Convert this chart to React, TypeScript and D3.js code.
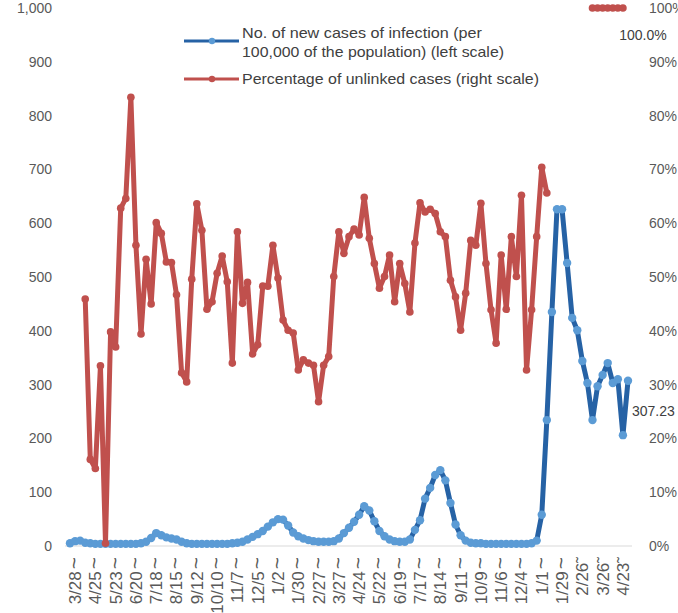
import React from "react";
import * as d3 from "d3";

const tickDates = ["3/28","4/25","5/23","6/20","7/18","8/15","9/12","10/10","11/7","12/5","1/2","1/30","2/27","3/27","4/24","5/22","6/19","7/17","8/14","9/11","10/9","11/6","12/4","1/1","1/29","2/26","3/26","4/23"];
const tickSuffixes = ["~","~","~","~","~","~","~","~","~","~","~","~","~","~","~","~","~","~","~","~","~","~","~","~","~","˜","˜","˜"];

const newCases: number[] = [
  5, 9, 10, 6, 5, 4, 4, 4, 4, 4,
  4, 4, 4, 4, 5, 8, 15, 24, 20, 16,
  14, 12, 8, 5, 4, 4, 4, 4, 4, 4,
  4, 4, 5, 6, 8, 12, 17, 22, 28, 36,
  44, 50, 49, 38, 25, 18, 14, 11, 9, 8,
  8, 8, 9, 14, 24, 34, 45, 58, 74, 66,
  46, 28, 18, 12, 9, 8, 8, 12, 30, 48,
  88, 108, 132, 141, 122, 80, 40, 20, 10, 6,
  5, 5, 4, 4, 4, 4, 4, 4, 4, 4,
  4, 5, 10, 58, 234, 435, 626, 626, 526, 424,
  401, 344, 303, 234, 297, 318, 340, 303, 310, 206,
  307.23,
];

const unlinkedPct: (number | null)[] = [
  null, null, null, 45.9, 16.1, 14.4, 33.5, 0.5, 39.8, 37.0,
  62.8, 64.6, 83.4, 55.9, 39.4, 53.3, 45.0, 60.1, 58.1, 52.8,
  52.7, 46.7, 32.2, 30.5, 49.6, 63.6, 58.7, 44.0, 45.4, 50.7,
  53.9, 49.1, 34.0, 58.4, 45.1, 49.0, 35.7, 37.4, 48.3, 48.3,
  55.9, 49.8, 42.0, 40.1, 39.6, 32.7, 34.6, 34.0, 33.6, 26.8,
  33.6, 35.2, 50.1, 58.4, 54.4, 57.5, 58.9, 57.8, 64.8, 57.2,
  52.5, 47.9, 50.1, 54.1, 45.4, 52.5, 48.8, 43.5, 56.3, 63.8,
  62.1, 62.6, 61.8, 58.4, 57.5, 49.4, 46.3, 40.1, 47.0, 56.8,
  55.9, 63.7, 52.5, 43.9, 37.7, 54.1, 44.0, 57.5, 50.1, 65.2,
  32.7, 43.9, 57.5, 70.4, 65.6, null, null, null, null, null,
  null, null, null, 100, 100, 100, 100, 100, 100, 100,
  null,
];

const leftTicks = [0, 100, 200, 300, 400, 500, 600, 700, 800, 900, 1000];
const rightTicks = [0, 10, 20, 30, 40, 50, 60, 70, 80, 90, 100];

const FONT = "'Liberation Sans', Arial, sans-serif";
const AXIS_COLOR = "#595959";
const BLUE_LINE = "#2662A5";
const BLUE_MARK = "#5B9BD5";
const RED = "#C0504D";

export default function App() {
  const W = 678, H = 613;
  const x = d3.scaleLinear().domain([0, newCases.length - 1]).range([70, 628]);
  const yL = d3.scaleLinear().domain([0, 1000]).range([546, 8]);
  const yR = d3.scaleLinear().domain([0, 100]).range([546, 8]);

  const blueLine = d3.line<number>().x((_, i) => x(i)).y((d) => yL(d))(newCases) || "";
  const redLine = d3
    .line<number | null>()
    .defined((d) => d != null)
    .x((_, i) => x(i))
    .y((d) => yR(d as number))(unlinkedPct) || "";

  const fmt = d3.format(",");
  const lastIdx = newCases.length - 1;
  const lastRedIdx = unlinkedPct.reduce((acc: number, v, i) => (v != null ? i : acc), 0);

  return (
    <svg width={W} height={H} style={{ position: "absolute", left: 0, top: 0, background: "#fff" }} fontFamily={FONT}>
      <rect width={W} height={H} fill="#fff" />
      <line x1={65} x2={632} y1={yL(0)} y2={yL(0)} stroke="#d9d9d9" strokeWidth={1} />

      {leftTicks.map((t) => (
        <text key={"l" + t} x={52} y={yL(t)} dy="0.35em" textAnchor="end" fontSize={14} fill={AXIS_COLOR}>
          {fmt(t)}
        </text>
      ))}
      {rightTicks.map((t) => (
        <text key={"r" + t} x={649} y={yR(t)} dy="0.35em" textAnchor="start" fontSize={14} fill={AXIS_COLOR}>
          {t + "%"}
        </text>
      ))}

      {tickDates.map((lab, k) => {
        const xi = x(1 + 4 * k);
        const big = tickSuffixes[k] === "~";
        return (
          <text
            key={"x" + k}
            transform={`translate(${xi},557) rotate(-90)`}
            dy="0.35em"
            textAnchor="end"
            fontSize={17}
            fill={AXIS_COLOR}
          >
            {lab}
            <tspan dx={big ? 2 : 0} fontSize={big ? 21 : 17}>{tickSuffixes[k]}</tspan>
          </text>
        );
      })}

      <path d={blueLine} fill="none" stroke={BLUE_LINE} strokeWidth={5} strokeLinejoin="round" />
      {newCases.map((v, i) => (
        <circle key={"b" + i} cx={x(i)} cy={yL(v)} r={4.2} fill={BLUE_MARK} />
      ))}

      <path d={redLine} fill="none" stroke={RED} strokeWidth={5} strokeLinejoin="round" />
      {unlinkedPct.map((v, i) =>
        v == null ? null : <circle key={"rd" + i} cx={x(i)} cy={yR(v)} r={3.8} fill={RED} />
      )}

      <text x={x(lastRedIdx) + 20} y={yR(100) + 27} dy="0.35em" textAnchor="middle" fontSize={14} fill="#404040">
        100.0%
      </text>
      <text x={632} y={yL(newCases[lastIdx]) + 30} dy="0.35em" textAnchor="start" fontSize={14} fill="#404040">
        {d3.format(".2f")(newCases[lastIdx])}
      </text>

      <g>
        <line x1={184} x2={239} y1={41} y2={41} stroke={BLUE_LINE} strokeWidth={3} />
        <circle cx={212} cy={41} r={3.2} fill={BLUE_MARK} />
        <text x={242} y={33} dy="0.35em" fontSize={15} fill="#404040" textLength={240} lengthAdjust="spacingAndGlyphs">No. of new cases of infection (per</text>
        <text x={242} y={52} dy="0.35em" fontSize={15} fill="#404040" textLength={262} lengthAdjust="spacingAndGlyphs">100,000 of the population) (left scale)</text>
        <line x1={184} x2={239} y1={79} y2={79} stroke={RED} strokeWidth={3} />
        <circle cx={212} cy={79} r={3.2} fill={RED} />
        <text x={242} y={79} dy="0.35em" fontSize={15} fill="#404040" textLength={297} lengthAdjust="spacingAndGlyphs">Percentage of unlinked cases (right scale)</text>
      </g>
    </svg>
  );
}
